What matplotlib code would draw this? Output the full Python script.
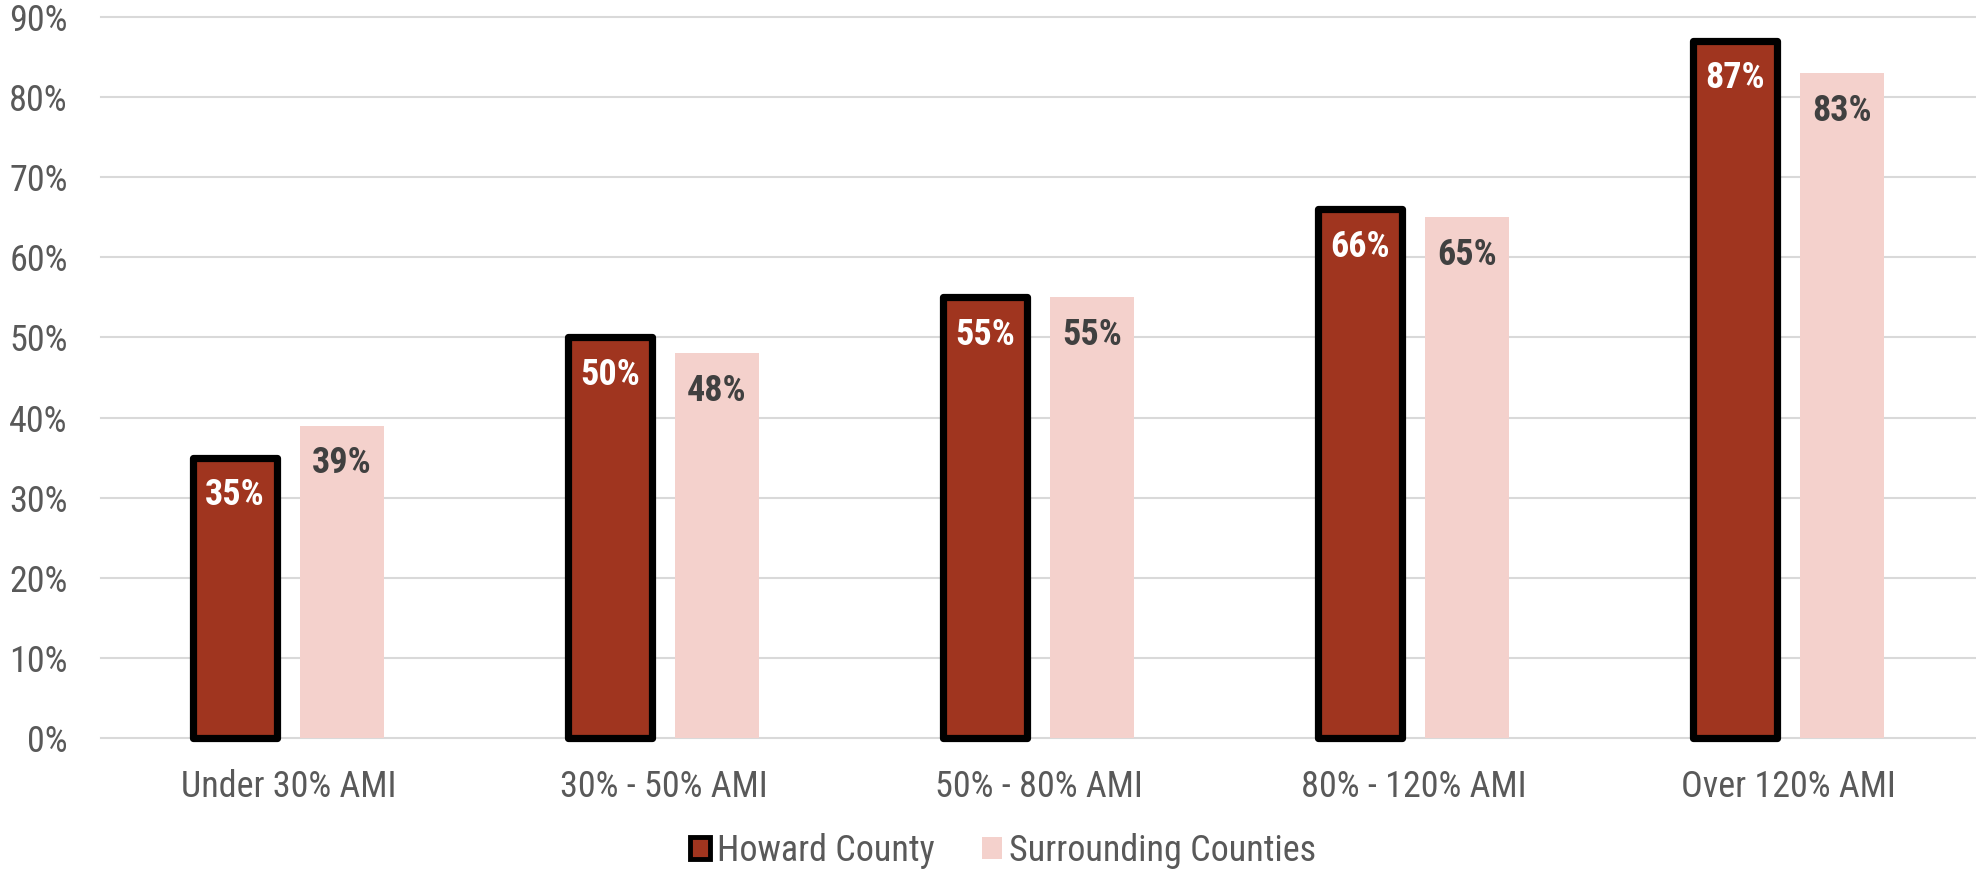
import matplotlib
matplotlib.use("Agg")
import matplotlib.pyplot as plt
from matplotlib.patches import Patch

plt.rcParams["font.family"] = ["Roboto Condensed", "DejaVu Sans"]

categories = ["Under 30% AMI", "30% - 50% AMI", "50% - 80% AMI", "80% - 120% AMI", "Over 120% AMI"]
howard = [35, 50, 55, 66, 87]
surrounding = [39, 48, 55, 65, 83]
y_ticks = [0, 10, 20, 30, 40, 50, 60, 70, 80, 90]

RED = "#A0351F"
PINK = "#F4D1CC"
GREY_TXT = "#595959"

fig = plt.figure(figsize=(19.76, 8.71), dpi=100)
ax = fig.add_axes([101 / 1976, 1 - 738 / 871, 1 - 101 / 1976, 721 / 871])

x = list(range(len(categories)))
w = 0.224
off = 0.142
ax.bar([i - off for i in x], howard, w, color=RED, edgecolor="black",
       linewidth=5.2, joinstyle="round", clip_on=False, zorder=3)
ax.bar([i + off for i in x], surrounding, w, color=PINK, zorder=3)

# value labels sit just inside the top of each bar
for i in x:
    ax.annotate(f"{howard[i]}%", (i - off, howard[i]), xytext=(0, -14),
                textcoords="offset points", ha="center", va="top",
                color="white", fontsize=26, fontweight="bold", zorder=4)
    ax.annotate(f"{surrounding[i]}%", (i + off, surrounding[i]), xytext=(0, -14),
                textcoords="offset points", ha="center", va="top",
                color="#404040", fontsize=26, fontweight="bold", zorder=4)

ax.set_xlim(-0.5, len(categories) - 0.5)
ax.set_ylim(0, 90)
ax.set_yticks(y_ticks)
ax.set_yticklabels([f"{v}%" for v in y_ticks])
ax.set_xticks(x)
ax.set_xticklabels(categories)
ax.tick_params(axis="both", length=0, labelsize=26, colors=GREY_TXT)
ax.tick_params(axis="y", pad=24)
ax.tick_params(axis="x", pad=22)
ax.grid(axis="y", color="#D9D9D9", linewidth=1.5, clip_on=False)
ax.set_axisbelow(True)
for s in ax.spines.values():
    s.set_visible(False)

handles = [
    Patch(facecolor=RED, edgecolor="black", linewidth=3.5, label="Howard County"),
    Patch(facecolor=PINK, edgecolor="none", label="Surrounding Counties"),
]
fig.legend(handles=handles, loc="center", bbox_to_anchor=(1003 / 1976, 1 - 851 / 871),
           ncol=2, frameon=False, fontsize=26, labelcolor=GREY_TXT,
           handlelength=0.55, handleheight=0.55, handletextpad=0.2, columnspacing=1.3)

fig.savefig("out.png", dpi=100)
